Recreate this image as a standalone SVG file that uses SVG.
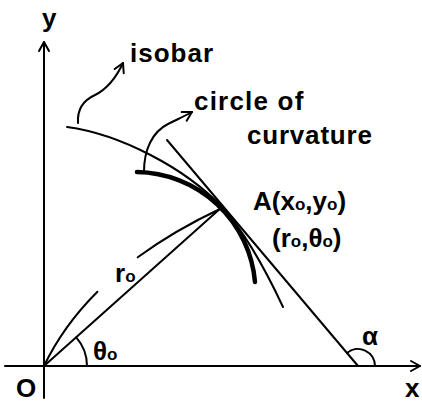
<svg xmlns="http://www.w3.org/2000/svg" width="422" height="403" viewBox="0 0 422 403">
<style>
.ln{fill:none;stroke:#000;stroke-width:2;stroke-linecap:round;stroke-linejoin:round}
.thick{fill:none;stroke:#000;stroke-width:4.5;stroke-linecap:round}
.t{font-family:"Liberation Sans",Arial,sans-serif;font-weight:bold;font-size:26px;fill:#000}
.s{font-size:17px}
</style>
<defs>
<marker id="ah" markerUnits="userSpaceOnUse" markerWidth="20" markerHeight="20" refX="0" refY="0" viewBox="-12 -10 14 20" orient="auto" overflow="visible">
<path d="M-9,-5 L0,0 L-9,5" fill="none" stroke="#000" stroke-width="2" stroke-linecap="round" stroke-linejoin="round"/>
</marker>
</defs>
<rect width="422" height="403" fill="#fff"/>
<g id="axes">
<path class="ln" d="M44,398 L44,42" marker-end="url(#ah)"/>
<path class="ln" d="M5,366 L420,366" marker-end="url(#ah)"/>
<text class="t" x="42" y="27">y</text>
<text class="t" x="405" y="397">x</text>
<text class="t" x="16" y="397" font-size="27">O</text>
</g>
<g id="connectors">
<path class="ln" d="M44,366 L222,207"/>
<path class="ln" d="M44,366 Q90,270 222,208" stroke-dasharray="92 53 300"/>
<path class="ln" d="M167,140 L358,366"/>
<path class="ln" d="M76.2,337.4 A43,43 0 0 1 87,366"/>
<path class="ln" d="M347,353 A17,17 0 0 1 375,366"/>
<path class="ln" d="M78,123 C77,108 84,100 95,95 C107,89 116,78 123,63" marker-end="url(#ah)"/>
<path class="ln" d="M144,172 C144,150 152,132 168,124 C178,119 185,116 192,112" marker-end="url(#ah)"/>
</g>
<g id="isobar">
<path class="ln" d="M67,127 C120,134 185,168 222,207 C240,227 262,262 283,307"/>
<text class="t" x="130" y="62" letter-spacing="1">isobar</text>
</g>
<g id="circle">
<path class="thick" d="M137,172 A120.3,120.3 0 0 1 255,282"/>
<text class="t" x="194" y="110" letter-spacing="1.2">circle of</text>
<text class="t" x="247" y="144" letter-spacing="0.8">curvature</text>
</g>
<g id="pointA">
<text class="t" x="253" y="210">A(x<tspan class="s">o</tspan>,y<tspan class="s">o</tspan>)</text>
<text class="t" x="272" y="247">(r<tspan class="s">o</tspan>,θ<tspan class="s">o</tspan>)</text>
</g>
<g id="labels">
<text class="t" x="115" y="282" font-size="22">r<tspan class="s">o</tspan></text>
<text class="t" x="93" y="360" font-size="22">θ<tspan class="s">o</tspan></text>
<text class="t" x="362" y="345" font-size="28">α</text>
</g>
</svg>
